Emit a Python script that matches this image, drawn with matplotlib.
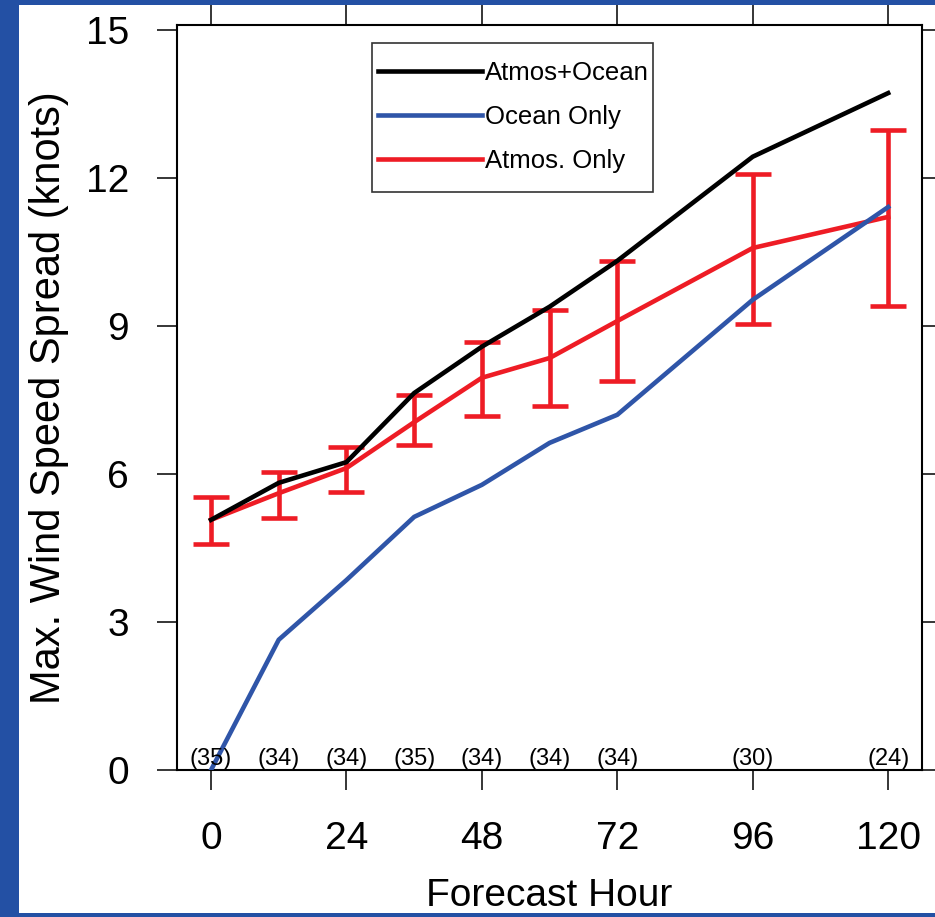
import matplotlib
matplotlib.use("Agg")
import matplotlib.pyplot as plt
from matplotlib.patches import Rectangle

plt.rcParams['font.family'] = ['Liberation Sans', 'DejaVu Sans']

# Данные
hours = [0, 12, 24, 36, 48, 60, 72, 96, 120]
atmos_ocean = [5.07, 5.82, 6.24, 7.64, 8.58, 9.39, 10.32, 12.43, 13.72]
ocean_only = [0.0, 2.64, 3.85, 5.13, 5.78, 6.63, 7.20, 9.53, 11.41]
atmos_only = [5.07, 5.61, 6.12, 7.05, 7.95, 8.35, 9.10, 10.58, 11.21]
atmos_hi = [5.53, 6.04, 6.55, 7.60, 8.68, 9.33, 10.32, 12.08, 12.97]
atmos_lo = [4.58, 5.11, 5.64, 6.59, 7.18, 7.38, 7.89, 9.04, 9.41]
counts = ["(35)", "(34)", "(34)", "(35)", "(34)", "(34)", "(34)", "(30)", "(24)"]

xticks = [0, 24, 48, 72, 96, 120]
yticks = [0, 3, 6, 9, 12, 15]

BLUE_BG = '#2350a4'
RED = '#ee1c25'
BLUE = '#2f55a8'

W, H = 935, 917
AX_L, AX_R, AX_T, AX_B = 177, 922, 25, 770   # рамка осей в пикселях


def ax_xy(px, py):
    """Пиксели картинки -> координаты осей"""
    return (px - AX_L) / (AX_R - AX_L), (AX_B - py) / (AX_B - AX_T)


fig = plt.figure(figsize=(W / 100, H / 100), dpi=100)
fig.patch.set_facecolor(BLUE_BG)
fig.add_artist(Rectangle((19 / W, 4 / H), 1, (H - 9) / H, transform=fig.transFigure,
                         facecolor='white', edgecolor='none', zorder=-1))

ax = fig.add_axes([AX_L / W, (H - AX_B) / H, (AX_R - AX_L) / W, (AX_B - AX_T) / H])

yerr = [[m - lo for m, lo in zip(atmos_only, atmos_lo)],
        [hi - m for m, hi in zip(atmos_only, atmos_hi)]]
eb = ax.errorbar(hours, atmos_only, yerr=yerr, color=RED, lw=3.3, elinewidth=3.3,
                 capsize=13, capthick=3.3, label='Atmos. Only', zorder=2)
l_ocean, = ax.plot(hours, ocean_only, color=BLUE, lw=3.3, label='Ocean Only', zorder=3)
l_both, = ax.plot(hours, atmos_ocean, color='black', lw=3.3, label='Atmos+Ocean', zorder=4)

for h, c in zip(hours, counts):
    ax.annotate(c, (h, 0), xytext=(0, 0), textcoords='offset points',
                ha='center', va='bottom', fontsize=17)

ax.set_xlim(-6.03, 126.0)
ax.set_ylim(0, 15.1)
ax.set_xticks(xticks)
ax.set_yticks(yticks)
ax.tick_params(direction='out', length=14.5, width=1.1, labelsize=28,
               top=True, right=True)
ax.tick_params(axis='x', pad=22)
ax.tick_params(axis='y', pad=20)
for s in ax.spines.values():
    s.set_linewidth(1.5)

ax.set_xlabel("Forecast Hour", fontsize=28, labelpad=15)
ax.set_ylabel("Max. Wind Speed Spread (knots)", fontsize=30, labelpad=12)

# Легенда: рамка отдельно, строки без рамки
x0, y0 = ax_xy(372, 192)
x1, y1 = ax_xy(653, 43)
ax.add_patch(Rectangle((x0, y0), x1 - x0, y1 - y0, transform=ax.transAxes,
                       facecolor='white', edgecolor='#333333', lw=1.2, zorder=5))
leg = ax.legend(handles=[l_both, l_ocean, eb[0]],
                labels=['Atmos+Ocean', 'Ocean Only', 'Atmos. Only'],
                loc='upper left', bbox_to_anchor=ax_xy(372, 55),
                fontsize=18.5, handlelength=4.05, handletextpad=0.12, labelspacing=0.77,
                borderpad=0.24, borderaxespad=0, frameon=False)
leg.set_zorder(6)

fig.savefig("out.png", dpi=100, facecolor=fig.get_facecolor())
